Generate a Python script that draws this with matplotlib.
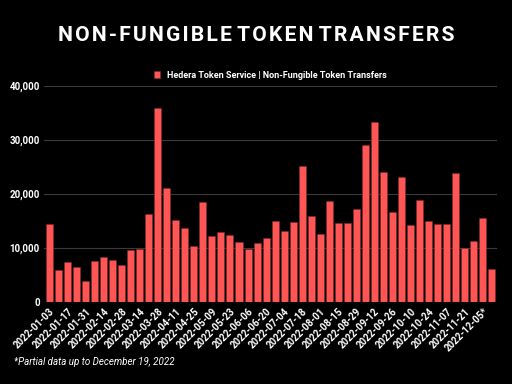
import numpy as np
import matplotlib.pyplot as plt
from matplotlib.ticker import FuncFormatter

# weekly NFT transfers on Hedera Token Service, 2022
weeks = ['2022-01-03', '2022-01-10', '2022-01-17', '2022-01-24', '2022-01-31', '2022-02-07',
         '2022-02-14', '2022-02-21', '2022-02-28', '2022-03-07', '2022-03-14', '2022-03-21',
         '2022-03-28', '2022-04-04', '2022-04-11', '2022-04-18', '2022-04-25', '2022-05-02',
         '2022-05-09', '2022-05-16', '2022-05-23', '2022-05-30', '2022-06-06', '2022-06-13',
         '2022-06-20', '2022-06-27', '2022-07-04', '2022-07-11', '2022-07-18', '2022-07-25',
         '2022-08-01', '2022-08-08', '2022-08-15', '2022-08-22', '2022-08-29', '2022-09-05',
         '2022-09-12', '2022-09-19', '2022-09-26', '2022-10-03', '2022-10-10', '2022-10-17',
         '2022-10-24', '2022-10-31', '2022-11-07', '2022-11-14', '2022-11-21', '2022-11-28',
         '2022-12-05*', '2022-12-12']
transfers = [14400, 5900, 7400, 6500, 3900, 7500, 8400, 7700, 6900, 9600,
             9700, 16200, 36000, 21100, 15100, 13700, 10300, 18500, 12200, 12900,
             12400, 11000, 9800, 10900, 11800, 14900, 13100, 14800, 25100, 16000,
             12600, 18600, 14600, 14600, 17200, 29100, 33300, 24100, 16600, 23100,
             14300, 18900, 14900, 14500, 14500, 23800, 10000, 11300, 15500, 6100]

title = 'NON-FUNGIBLE TOKEN TRANSFERS'
bar_color = '#ff5555'

plt.rcParams['font.family'] = ['Roboto', 'DejaVu Sans']

fig = plt.figure(figsize=(5.12, 3.84), dpi=100, facecolor='black')
ax = fig.add_axes([0.086, 0.214, 0.885, 0.562], facecolor='black')

x = np.arange(len(weeks))
ax.bar(x, transfers, width=0.78, color=bar_color, edgecolor='#7a2a2a', linewidth=0.4,
       label='Hedera Token Service | Non-Fungible Token Transfers', zorder=3)

ax.set_xlim(-0.6, len(weeks) - 0.4)
ax.set_ylim(0, 40000)
ax.set_yticks([0, 10000, 20000, 30000, 40000])
ax.yaxis.set_major_formatter(FuncFormatter(lambda v, p: f'{int(v):,}'))
ax.grid(axis='y', color='#3a3a3a', linewidth=0.8, zorder=0)
ax.set_xticks(x[::2])
ax.set_xticklabels(weeks[::2], rotation=45, ha='right', rotation_mode='anchor')
ax.tick_params(colors='white', labelsize=7, length=0, pad=3)
for lbl in ax.get_xticklabels() + ax.get_yticklabels():
    lbl.set_fontweight('bold')
for s in ax.spines.values():
    s.set_visible(False)
ax.axhline(0, color='#555555', linewidth=0.8, zorder=4)

# slight letter spacing on the title with hair spaces
spaced = ' '.join('\u200a'.join(w) for w in title.split(' '))
fig.text(0.5, 0.907, spaced, ha='center', va='center', color='white',
         fontsize=15.2, fontweight='bold')

leg = ax.legend(loc='lower center', bbox_to_anchor=(0.5, 1.0), frameon=False, fontsize=6.5,
                handlelength=0.7, handleheight=0.7, borderaxespad=0.3)
for t in leg.get_texts():
    t.set_color('white')
    t.set_fontweight('bold')

fig.text(0.027, 0.05, '*Partial data up to December 19, 2022', color='white',
         fontsize=7, style='italic')

fig.savefig('out.png', dpi=100, facecolor='black')
